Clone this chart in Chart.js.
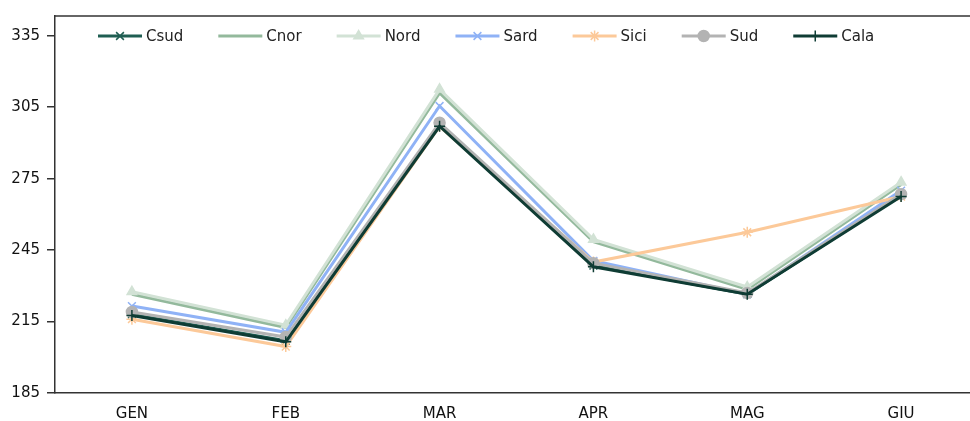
<!DOCTYPE html>
<html>
<head>
<meta charset="utf-8">
<script src="https://cdn.jsdelivr.net/npm/chart.js@4/dist/chart.umd.min.js"></script>
<style>
    html, body { margin: 0; padding: 0; background: #fff; overflow: hidden; }
    #wrap { position: relative; width: 985px; height: 421px; }
</style>
</head>
<body>
<div id="wrap"><canvas id="myChart"></canvas></div>
<script>
// Data
let months = ['GEN', 'FEB', 'MAR', 'APR', 'MAG', 'GIU'];
let seriesNames = ['Csud', 'Cnor', 'Nord', 'Sard', 'Sici', 'Sud', 'Cala'];
let csud = [218, 207, 297.5, 238.5, 226.5, 268];
let cnor = [226.5, 212.5, 311, 248.5, 228.5, 272.5];
let nord = [227.5, 213.5, 312.5, 249.5, 229.5, 273.5];
let sard = [221.5, 210.5, 305.5, 240.5, 226.5, 270];
let sici = [216, 204.5, 297, 240, 252.5, 267.5];
let sud = [219, 208.5, 298.5, 239.5, 227, 268.5];
let cala = [217.5, 206.5, 297, 238, 226.5, 267.5];
let yTicks = [185, 215, 245, 275, 305, 335];

let values = [csud, cnor, nord, sard, sici, sud, cala];
let colors = ['#1f5e52', '#93b99c', '#d2e2d5', '#8fb2f6', '#fcc999', '#b3b3b3', '#0f3c34'];
let markers = ['crossRot', false, 'triangle', 'crossRot', 'star', 'circle', 'cross'];

function makeDataset(i) {
    return {
        label: seriesNames[i],
        data: values[i],
        borderColor: colors[i],
        backgroundColor: colors[i],
        borderWidth: 3,
        pointStyle: markers[i],
        pointRadius: markers[i] ? 5.5 : 0,
        pointBorderWidth: 1.5,
        pointBorderColor: colors[i],
        pointBackgroundColor: colors[i],
        tension: 0,
        order: seriesNames.length - i
    };
}

// top edge of the plot box
let frame = {
    id: 'frame',
    afterDraw(chart) {
        let ctx = chart.ctx;
        let a = chart.chartArea;
        ctx.save();
        ctx.strokeStyle = '#333';
        ctx.lineWidth = 1.5;
        ctx.beginPath();
        ctx.moveTo(a.left, a.top);
        ctx.lineTo(a.right, a.top);
        ctx.stroke();
        ctx.restore();
    }
};

// legend with line + marker, drawn over the plot
let lineLegend = {
    id: 'lineLegend',
    afterDraw(chart) {
        let ctx = chart.ctx;
        let x = 98;
        let y = 36;
        ctx.save();
        ctx.font = '15px "DejaVu Sans"';
        ctx.textBaseline = 'middle';
        chart.data.datasets.forEach(function(ds) {
            ctx.strokeStyle = ds.borderColor;
            ctx.lineWidth = 3;
            ctx.beginPath();
            ctx.moveTo(x, y);
            ctx.lineTo(x + 44, y);
            ctx.stroke();
            if (ds.pointStyle) {
                ctx.fillStyle = ds.borderColor;
                ctx.strokeStyle = ds.borderColor;
                ctx.lineWidth = 1.5;
                Chart.helpers.drawPoint(ctx, {
                    pointStyle: ds.pointStyle,
                    radius: 5.5,
                    borderWidth: 1.5
                }, x + 22, y);
            }
            ctx.fillStyle = '#222';
            ctx.fillText(ds.label, x + 48, y + 1);
            x += 48 + ctx.measureText(ds.label).width + 35;
        });
        ctx.restore();
    }
};

let ctx = document.getElementById('myChart').getContext('2d');
new Chart(ctx, {
    type: 'line',
    data: {
        labels: months,
        datasets: seriesNames.map(function(n, i) { return makeDataset(i); })
    },
    options: {
        responsive: true,
        maintainAspectRatio: false,
        animation: false,
        layout: { padding: { left: 0, top: 12, right: 2, bottom: 0 } },
        plugins: {
            legend: { display: false },
            tooltip: { enabled: false }
        },
        scales: {
            x: {
                offset: true,
                grid: { display: false, drawTicks: false },
                border: { display: true, color: '#333', width: 1.5 },
                ticks: { color: '#111', font: { family: 'DejaVu Sans', size: 15 }, padding: 12 },
                afterFit(scale) { scale.height = 28; }
            },
            y: {
                min: 185,
                max: 343.3,
                grid: { drawOnChartArea: false, tickLength: 8, color: '#333', lineWidth: 1.5 },
                border: { display: true, color: '#333', width: 1.5 },
                ticks: { color: '#111', font: { family: 'DejaVu Sans', size: 15 }, padding: 7 },
                afterBuildTicks(scale) {
                    scale.ticks = yTicks.map(function(v) { return { value: v }; });
                },
                afterFit(scale) { scale.width = 55; }
            }
        }
    },
    plugins: [frame, lineLegend]
});
</script>
</body>
</html>
